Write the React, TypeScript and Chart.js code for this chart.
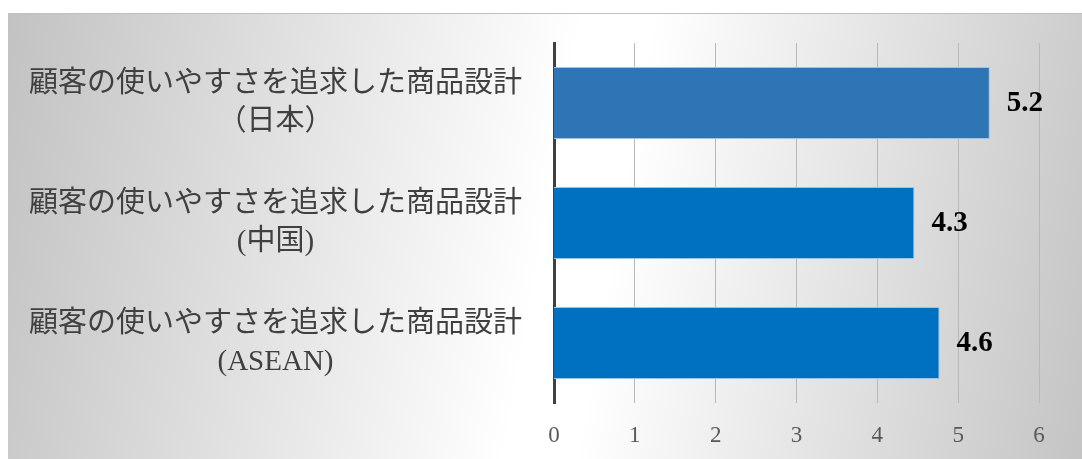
import React, { useEffect, useRef } from "react";
import { Chart, registerables } from "chart.js";

Chart.register(...registerables);

const categories: string[][] = [
  ["顧客の使いやすさを追求した商品設計", "（日本）"],
  ["顧客の使いやすさを追求した商品設計", "(中国)"],
  ["顧客の使いやすさを追求した商品設計", "(ASEAN)"],
];
const values: number[] = [5.2, 4.3, 4.6];
const barColors: string[] = ["#2E75B6", "#0070C0", "#0070C0"];
const tickMin = 0;
const tickMax = 6;
const tickStep = 1;

const dataLabelPlugin = {
  id: "dataLabels",
  afterDatasetsDraw(chart: any) {
    const ctx = chart.ctx;
    const meta = chart.getDatasetMeta(0);
    ctx.save();
    ctx.font = "bold 29px 'Liberation Serif', serif";
    ctx.fillStyle = "#000000";
    ctx.textAlign = "left";
    ctx.textBaseline = "middle";
    meta.data.forEach((el: any, i: number) => {
      ctx.fillText(values[i].toFixed(1), el.x + 17, el.y + 1);
    });
    ctx.restore();
  },
};

export default function App() {
  const ref = useRef<HTMLCanvasElement | null>(null);
  useEffect(() => {
    if (!ref.current) return;
    const chart = new Chart(ref.current, {
      type: "bar",
      data: {
        labels: categories,
        datasets: [
          {
            data: values,
            backgroundColor: barColors,
            borderColor: "#9DC3E6",
            borderWidth: 1,
            categoryPercentage: 0.6,
            barPercentage: 1,
            xAxisID: "x2",
          },
        ],
      },
      options: {
        indexAxis: "y",
        animation: false,
        responsive: false,
        devicePixelRatio: 1,
        layout: { padding: { top: 29, right: 43, bottom: 0, left: 0 } },
        plugins: { legend: { display: false }, tooltip: { enabled: false } },
        scales: {
          x: {
            type: "linear",
            axis: "x",
            position: "bottom",
            min: tickMin,
            max: tickMax,
            ticks: {
              stepSize: tickStep,
              padding: 19,
              color: "#595959",
              font: { family: "'Liberation Serif', serif", size: 23 },
            },
            grid: { color: "#b8b8b8", lineWidth: 1, drawTicks: false },
            border: { display: false },
            afterFit: (s: any) => {
              s.height = 56;
              s.paddingLeft = 0;
              s.paddingRight = 0;
            },
          },
          x2: {
            type: "linear",
            axis: "x",
            position: "bottom",
            display: false,
            min: 0,
            max: 5.787,
          },
          y: {
            type: "category",
            position: "left",
            ticks: {
              crossAlign: "center",
              padding: 32,
              color: "#404040",
              font: {
                family: "'Liberation Serif', 'Noto Sans CJK JP', sans-serif",
                size: 29,
                lineHeight: 1.31,
              },
            },
            grid: { display: false, drawTicks: false },
            border: { display: true, color: "#404040", width: 3 },
            afterFit: (s: any) => {
              s.width = 546;
              s.paddingTop = 0;
              s.paddingBottom = 0;
            },
          },
        },
      },
      plugins: [dataLabelPlugin],
    } as any);
    return () => chart.destroy();
  }, []);
  return (
    <div
      style={{
        position: "fixed",
        left: 8,
        top: 13,
        right: 0,
        bottom: 0,
        borderTop: "1px solid #c0c0c0",
        background:
          "linear-gradient(100deg, #c2c2c2 0%, #ffffff 50%, #ffffff 56%, #c4c4c4 100%)",
        overflow: "hidden",
      }}
    >
      <canvas ref={ref} width={1074} height={445} style={{ display: "block" }} />
    </div>
  );
}
